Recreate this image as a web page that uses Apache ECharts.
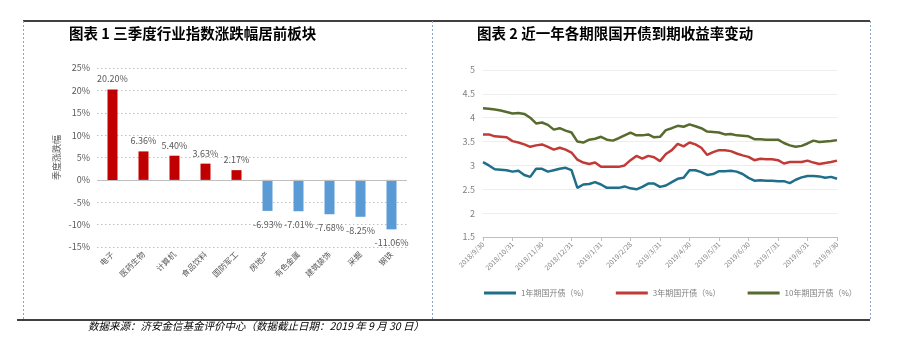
<!DOCTYPE html>
<html>
<head>
<meta charset="utf-8">
<script src="https://cdn.jsdelivr.net/npm/echarts@6/dist/echarts.min.js"></script>
<style>
html,body{margin:0;padding:0;background:#fff;}
#c{width:897px;height:349px;}
</style>
</head>
<body>
<div id="c"></div>
<script>
// ---- Chart 1 data ----
var sectors = ['电子','医药生物','计算机','食品饮料','国防军工','房地产','有色金属','建筑装饰','采掘','钢铁'];
var sectorChange = [20.20, 6.36, 5.40, 3.63, 2.17, -6.93, -7.01, -7.68, -8.25, -11.06];
var pctTicks = [-15, -10, -5, 0, 5, 10, 15, 20, 25];

// ---- Chart 2 data ----
var dates = [
'2018/9/30',
'2018/10/12','2018/10/17','2018/10/22','2018/10/26','2018/10/31',
'2018/11/6','2018/11/12','2018/11/18','2018/11/24','2018/11/30',
'2018/12/6','2018/12/12','2018/12/18','2018/12/24','2018/12/31',
'2019/1/7','2019/1/13','2019/1/19','2019/1/25','2019/1/31',
'2019/2/11','2019/2/15','2019/2/19','2019/2/23','2019/2/28',
'2019/3/6','2019/3/12','2019/3/18','2019/3/24','2019/3/31',
'2019/4/6','2019/4/12','2019/4/18','2019/4/24','2019/4/30',
'2019/5/6','2019/5/12','2019/5/18','2019/5/24','2019/5/31',
'2019/6/6','2019/6/12','2019/6/18','2019/6/24','2019/6/30',
'2019/7/6','2019/7/12','2019/7/18','2019/7/24','2019/7/31',
'2019/8/6','2019/8/12','2019/8/18','2019/8/24','2019/8/31',
'2019/9/6','2019/9/12','2019/9/18','2019/9/24','2019/9/30'
];
var y1 = [3.07,
3.00,2.92,2.91,2.90,2.87,
2.89,2.80,2.76,2.93,2.93,
2.87,2.90,2.93,2.95,2.90,
2.53,2.60,2.61,2.65,2.60,
2.53,2.53,2.53,2.56,2.52,
2.50,2.55,2.62,2.62,2.55,
2.58,2.65,2.72,2.74,2.90,
2.90,2.86,2.80,2.82,2.88,
2.88,2.89,2.87,2.82,2.74,
2.68,2.69,2.68,2.68,2.67,
2.67,2.63,2.70,2.75,2.78,
2.78,2.77,2.74,2.76,2.72];
var y3 = [3.65,
3.65,3.61,3.60,3.59,3.51,
3.48,3.44,3.39,3.42,3.44,
3.39,3.33,3.37,3.33,3.27,
3.12,3.06,3.03,3.06,2.97,
2.97,2.97,2.97,3.00,3.11,
3.20,3.14,3.20,3.17,3.09,
3.24,3.32,3.45,3.40,3.48,
3.44,3.37,3.22,3.28,3.32,
3.32,3.30,3.25,3.21,3.18,
3.11,3.14,3.13,3.13,3.11,
3.04,3.07,3.07,3.07,3.10,
3.06,3.03,3.05,3.07,3.10];
var y10 = [4.20,
4.19,4.17,4.15,4.12,4.09,
4.10,4.08,4.00,3.88,3.90,
3.85,3.75,3.78,3.73,3.69,
3.50,3.48,3.54,3.56,3.60,
3.54,3.52,3.57,3.63,3.69,
3.63,3.63,3.65,3.59,3.60,
3.74,3.78,3.83,3.81,3.86,
3.82,3.78,3.71,3.70,3.69,
3.65,3.66,3.63,3.62,3.61,
3.55,3.55,3.54,3.54,3.54,
3.47,3.42,3.39,3.41,3.46,
3.52,3.49,3.50,3.51,3.53];
var seriesNames = ['1年期国开债（%）','3年期国开债（%）','10年期国开债（%）'];
var lineColors = ['#1F6F8B','#C23A36','#576B2E'];

var FONT = "'Noto Sans CJK SC', sans-serif";
var chart = echarts.init(document.getElementById('c'), null, {renderer:'canvas'});

var barData = sectorChange.map(function(v){
  return {
    value: v,
    itemStyle: {color: v >= 0 ? '#C00000' : '#5B9BD5'},
    label: {position: v >= 0 ? 'top' : 'bottom', distance: v >= 0 ? 6 : 9}
  };
});

var dashColor = '#8EA3C8';
var option = {
  animation: false,
  textStyle: {fontFamily: FONT},
  title: [
    {text: '图表 1 三季度行业指数涨跌幅居前板块', left: 69, top: 26, padding: 0,
     textStyle: {fontSize: 14.5, fontWeight: 'bold', color: '#000', fontFamily: FONT}},
    {text: '图表 2 近一年各期限国开债到期收益率变动', left: 477, top: 26, padding: 0,
     textStyle: {fontSize: 14.5, fontWeight: 'bold', color: '#000', fontFamily: FONT}},
    {text: '数据来源：济安金信基金评价中心（数据截止日期：2019 年 9 月 30 日）', left: 88, top: 321, padding: 0,
     textStyle: {fontSize: 10.5, fontWeight: 'normal', fontStyle: 'italic', color: '#000', fontFamily: FONT}}
  ],
  legend: {
    data: seriesNames,
    left: 484, top: 289, padding: 0,
    icon: 'rect', itemWidth: 32, itemHeight: 3, itemGap: 27,
    textStyle: {fontSize: 8, color: '#808080', fontFamily: FONT}
  },
  grid: [
    {left: 97, top: 68, width: 310, height: 179},
    {left: 483, top: 70, width: 354, height: 167}
  ],
  xAxis: [
    {gridIndex: 0, type: 'category', data: sectors, position: 'bottom',
     axisLine: {show: false}, axisTick: {show: false},
     axisLabel: {interval: 0, rotate: 45, fontSize: 8, color: '#595959', margin: 6, fontFamily: FONT}},
    {gridIndex: 1, type: 'category', data: dates, boundaryGap: false,
     axisLine: {lineStyle: {color: '#BFBFBF'}},
     axisTick: {show: true, interval: 4, length: 4, lineStyle: {color: '#BFBFBF'}},
     axisLabel: {interval: 4, rotate: 45, fontSize: 7, color: '#808080', margin: 6, fontFamily: FONT}}
  ],
  yAxis: [
    {gridIndex: 0, type: 'value', min: pctTicks[0], max: pctTicks[pctTicks.length-1], interval: 5,
     name: '季度涨跌幅', nameLocation: 'middle', nameGap: 36, nameRotate: 90,
     nameTextStyle: {fontSize: 9, color: '#595959', fontFamily: FONT},
     axisLine: {show: false}, axisTick: {show: false},
     axisLabel: {formatter: '{value}%', fontSize: 9, color: '#595959', margin: 7, fontFamily: FONT},
     splitLine: {lineStyle: {type: [1.5, 2.5], color: '#BFBFBF'}}},
    {gridIndex: 1, type: 'value', min: 1.5, max: 5, interval: 0.5,
     axisLine: {show: false}, axisTick: {show: false},
     axisLabel: {fontSize: 9, color: '#808080', margin: 8, fontFamily: FONT},
     splitLine: {lineStyle: {color: '#EDEDED'}}}
  ],
  series: [
    {type: 'bar', xAxisIndex: 0, yAxisIndex: 0, data: barData, barWidth: 10,
     label: {show: true, fontSize: 9, color: '#595959', fontFamily: FONT,
       formatter: function(p){ return p.value.toFixed(2) + '%'; }},
     markLine: {silent: true, symbol: 'none', label: {show: false},
       lineStyle: {color: '#BFBFBF', type: 'solid', width: 1},
       data: [{yAxis: 0}]}},
    {type: 'line', name: seriesNames[0], xAxisIndex: 1, yAxisIndex: 1, data: y1, showSymbol: false,
     lineStyle: {width: 2.5, color: lineColors[0]}, itemStyle: {color: lineColors[0]}},
    {type: 'line', name: seriesNames[1], xAxisIndex: 1, yAxisIndex: 1, data: y3, showSymbol: false,
     lineStyle: {width: 2.5, color: lineColors[1]}, itemStyle: {color: lineColors[1]}},
    {type: 'line', name: seriesNames[2], xAxisIndex: 1, yAxisIndex: 1, data: y10, showSymbol: false,
     lineStyle: {width: 2.5, color: lineColors[2]}, itemStyle: {color: lineColors[2]}}
  ],
  graphic: [
    {type: 'line', shape: {x1: 23, y1: 21, x2: 870, y2: 21}, style: {stroke: '#000', lineWidth: 1.5}},
    {type: 'line', shape: {x1: 17, y1: 320, x2: 870, y2: 320}, style: {stroke: '#000', lineWidth: 1.5}},
    {type: 'line', shape: {x1: 23.5, y1: 21, x2: 23.5, y2: 320}, style: {stroke: dashColor, lineWidth: 1, lineDash: [2, 2]}},
    {type: 'line', shape: {x1: 432.5, y1: 21, x2: 432.5, y2: 320}, style: {stroke: dashColor, lineWidth: 1, lineDash: [2, 2]}},
    {type: 'line', shape: {x1: 870.5, y1: 21, x2: 870.5, y2: 320}, style: {stroke: dashColor, lineWidth: 1, lineDash: [2, 2]}}
  ]
};
chart.setOption(option);
</script>
</body>
</html>
